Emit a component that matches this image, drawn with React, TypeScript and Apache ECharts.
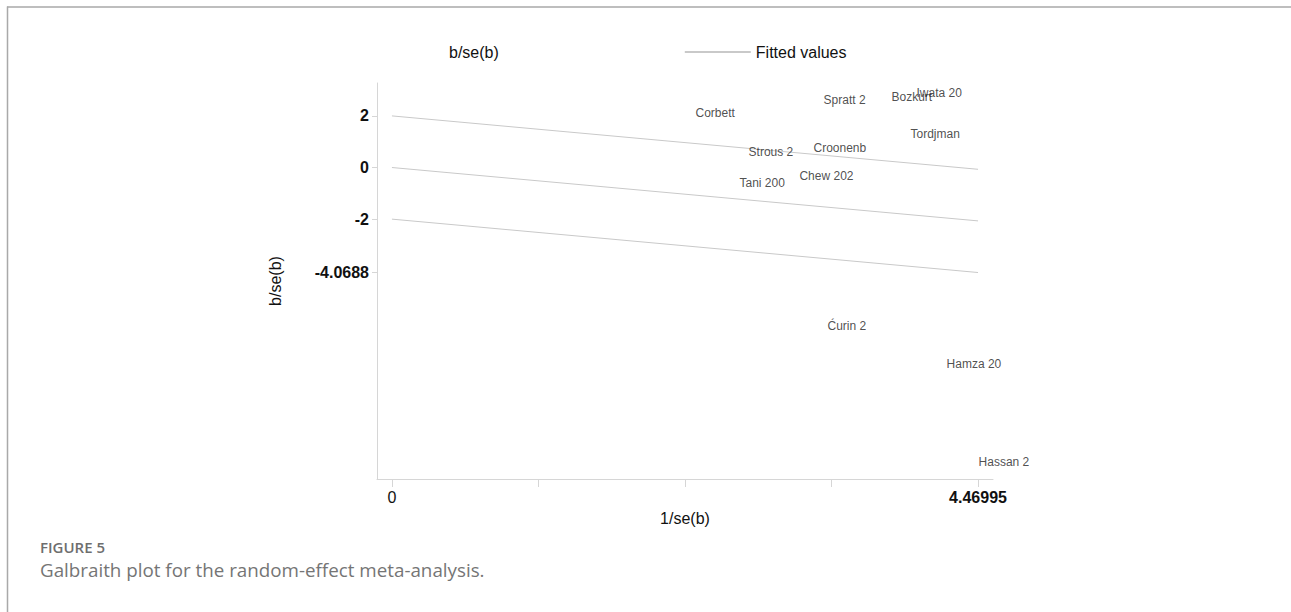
import { useEffect, useRef } from "react";
import * as echarts from "echarts";

// Study labels with their precision (1/se) and standardised effect (b/se)
const studies = [
  "Corbett", "Spratt 2", "Bozkurt", "Iwata 20", "Tordjman", "Strous 2",
  "Croonenb", "Chew 202", "Tani 200", "Ćurin 2", "Hamza 20", "Hassan 2",
];
const precision = [2.311, 3.288, 3.806, 3.997, 3.951, 2.716, 3.211, 3.104, 2.647, 3.318, 4.226, 4.46995];
const zScores = [2.124, 2.616, 2.733, 2.888, 1.298, 0.601, 0.756, -0.329, -0.601, -6.143, -7.616, -11.415];

// Fitted regression line through the origin and its ±2 band, at x = 0 and x = max
const fittedX = [0, 4.46995];
const fittedUpper = [2, -0.0688];
const fittedCentre = [0, -2.0688];
const fittedLower = [-2, -4.0688];

// Axis ticks and labels
const yTickValues = [2, 0, -2, -4.0688];
const xTickValues = [0, 1.1175, 2.235, 3.3525, 4.46995];
const xLabelValues = [0, 4.46995];

const FONT = "'Liberation Sans', Arial, Helvetica, sans-serif";
const CAPTION_FONT = "'Open Sans', Lato, sans-serif";

const lineData = (ys: number[]) => fittedX.map((x, i) => [x, ys[i]]);

export default function App() {
  const ref = useRef<HTMLDivElement>(null);

  useEffect(() => {
    document.body.style.margin = "0";
    if (!ref.current) return;
    const chart = echarts.init(ref.current, null, { renderer: "svg" });

    const fittedStyle = { color: "#c9c9c9", width: 1 };
    const fittedSeries = [fittedUpper, fittedCentre, fittedLower].map((ys) => ({
      name: "Fitted values",
      type: "line",
      data: lineData(ys),
      symbol: "none",
      lineStyle: fittedStyle,
      itemStyle: { color: "#c9c9c9" },
      silent: true,
      z: 1,
    }));

    chart.setOption({
      animation: false,
      backgroundColor: "#ffffff",
      legend: {
        left: 373,
        top: 39,
        itemWidth: 66,
        itemHeight: 14,
        itemGap: 185,
        selectedMode: false,
        textStyle: { fontSize: 16, color: "#111", fontFamily: FONT },
        data: [
          { name: "b/se(b)", icon: "none" },
          { name: "Fitted values", itemStyle: { opacity: 0 } },
        ],
      },
      grid: {
        left: 377,
        top: 83,
        width: 616,
        height: 396,
        outerBoundsMode: "none",
      },
      xAxis: {
        type: "value",
        min: -0.114,
        max: 4.584,
        name: "1/se(b)",
        nameLocation: "middle",
        nameGap: 31,
        nameTextStyle: { fontSize: 16, color: "#111", fontFamily: FONT },
        axisLine: { show: true, onZero: false, lineStyle: { color: "#d6d6d6", width: 1 } },
        axisTick: { show: true, length: 8, customValues: xTickValues, lineStyle: { color: "#d6d6d6" } },
        axisLabel: {
          customValues: xLabelValues,
          margin: 10,
          fontSize: 16,
          color: "#111",
          fontFamily: FONT,
          formatter: (v: number) => (v === 0 ? "{r|0}" : "{b|" + String(v) + "}"),
          rich: {
            r: { fontSize: 16, fontWeight: "normal", color: "#111", fontFamily: FONT },
            b: { fontSize: 16, fontWeight: "bold", color: "#111", fontFamily: FONT },
          },
        },
        splitLine: { show: false },
      },
      yAxis: {
        type: "value",
        min: -12.07,
        max: 3.275,
        name: "b/se(b)",
        nameLocation: "middle",
        nameGap: 94,
        nameTextStyle: { fontSize: 16, color: "#111", fontFamily: FONT },
        axisLine: { show: true, onZero: false, lineStyle: { color: "#d6d6d6", width: 1 } },
        axisTick: { show: true, length: 5, customValues: yTickValues, lineStyle: { color: "#d6d6d6" } },
        axisLabel: {
          customValues: yTickValues,
          margin: 8,
          fontSize: 16,
          fontWeight: "bold",
          color: "#111",
          fontFamily: FONT,
          formatter: (v: number) => String(v),
        },
        splitLine: { show: false },
      },
      series: [
        ...fittedSeries,
        {
          name: "b/se(b)",
          type: "scatter",
          data: studies.map((s, i) => ({ value: [precision[i], zScores[i]], name: s })),
          symbolSize: 1,
          itemStyle: { color: "rgba(0,0,0,0)" },
          label: {
            show: true,
            position: "right",
            distance: 0,
            formatter: (p: any) => p.name,
            fontSize: 12,
            color: "#222",
            fontFamily: FONT,
          },
          z: 3,
        },
      ],
      graphic: [
        {
          type: "line",
          shape: { x1: 7, y1: 7, x2: 1291, y2: 7 },
          style: { stroke: "#a9a9a9", lineWidth: 1.5 },
        },
        {
          type: "line",
          shape: { x1: 7.5, y1: 6.5, x2: 7.5, y2: 612 },
          style: { stroke: "#a9a9a9", lineWidth: 1.5 },
        },
        {
          type: "text",
          left: 40,
          top: 539,
          style: {
            text: "FIGURE 5",
            font: `600 15px ${CAPTION_FONT}`,
            fill: "#6e6e6e",
          },
        },
        {
          type: "text",
          left: 40,
          top: 560,
          style: {
            text: "Galbraith plot for the random-effect meta-analysis.",
            font: `18.8px ${CAPTION_FONT}`,
            fill: "#757575",
          },
        },
      ],
    });

    return () => chart.dispose();
  }, []);

  return <div ref={ref} style={{ width: 1291, height: 612 }} />;
}
